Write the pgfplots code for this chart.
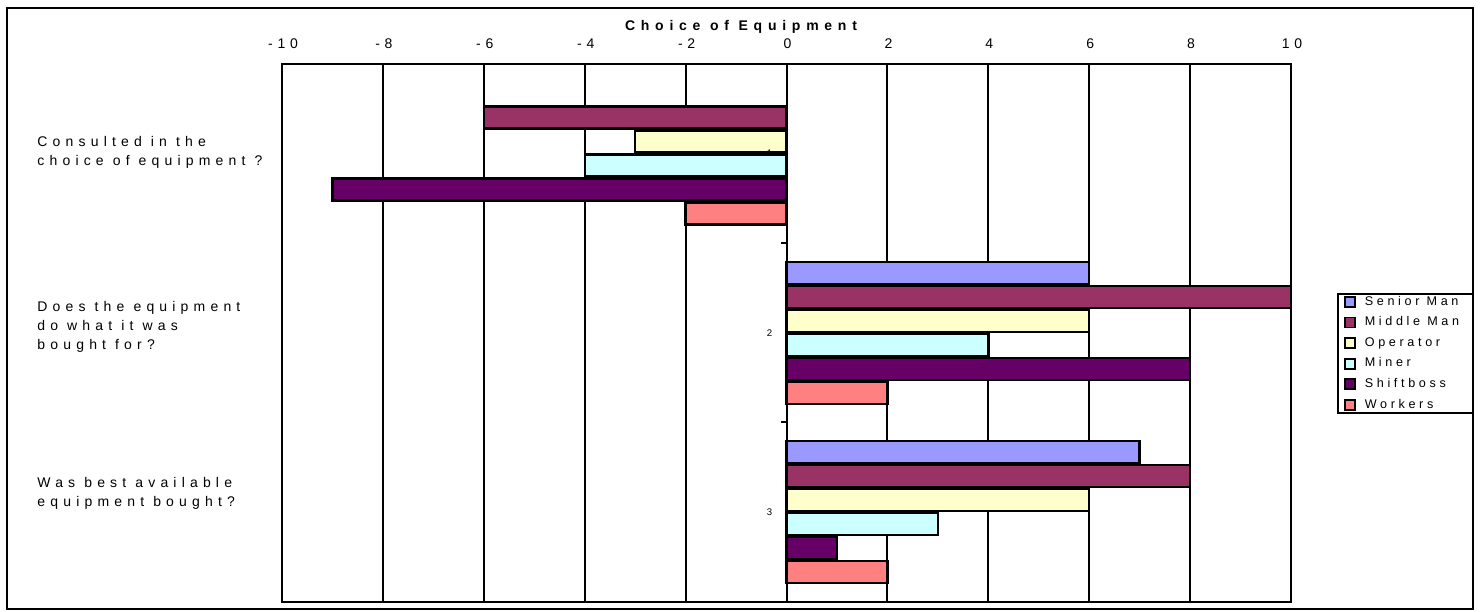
\documentclass[border=0pt]{standalone}
\usepackage{fontspec}
\setmainfont{Liberation Sans}
\usepackage{pgfplots}
\pgfplotsset{compat=1.18}

% widely tracked Arial-like faces
\newfontfamily\lblfont{Liberation Sans}[LetterSpace=37]
\newfontfamily\tickfont{Liberation Sans}[LetterSpace=34]
\newfontfamily\ttlfont{Liberation Sans}[LetterSpace=41]
\newfontfamily\legfont{Liberation Sans}[LetterSpace=29]

\definecolor{seniorman}{HTML}{9999FF}
\definecolor{middleman}{HTML}{993366}
\definecolor{operator}{HTML}{FFFFCC}
\definecolor{miner}{HTML}{CCFFFF}
\definecolor{shiftboss}{HTML}{660066}
\definecolor{workers}{HTML}{FF8080}

\pgfplotsset{
  sqlegend/.style={legend image code/.code={%
    \draw[##1, draw=black, line width=0.9pt] (0pt,-2.5pt) rectangle (5pt,2.5pt);}},
  barstyle/.style={draw=black, line width=1.2pt, fill=#1, sqlegend},
}

\begin{document}
\begin{tikzpicture}
\useasboundingbox (0,0) rectangle (742pt,305.5pt);
\draw[line width=1pt] (3.5pt,1pt) rectangle (736.5pt,301.5pt);

\begin{axis}[
  at={(141pt,4.75pt)}, anchor=south west,
  scale only axis, width=504.5pt, height=268.75pt,
  xbar, bar width=0.1228,
  xmin=-10, xmax=10, ymin=0.5, ymax=3.5, y dir=reverse,
  xtick={-10,-8,...,10},
  xticklabels={-10,-8,-6,-4,-2,0,2,4,6,8,10},
  xtick pos=upper, xticklabel pos=upper,
  xticklabel style={font=\fontsize{7}{8}\tickfont, yshift=4pt, xshift=0.5pt},
  ytick=\empty,
  xmajorgrids, grid style={black, line width=1pt},
  axis line style={black, line width=1pt},
  major tick length=2pt, tick style={black, line width=0.8pt},
  clip=false,
  legend cell align=left,
  legend style={at={(1.04559,0.5740)}, anchor=north west,
    draw=black, line width=1pt, fill=white,
    inner xsep=3pt, inner ysep=1pt,
    font=\fontsize{6.3}{7}\legfont, row sep=4.4pt,
    nodes={inner sep=0pt, text height=4.6pt, text depth=1.3pt},
    /tikz/every odd column/.append style={column sep=4.5pt}},
]
\addplot[barstyle=seniorman, bar shift=-0.335] coordinates {(6,2) (7,3)};
\addlegendentry{Senior Man}
\addplot[barstyle=middleman, bar shift=-0.201] coordinates {(-6,1) (10,2) (8,3)};
\addlegendentry{Middle Man\hspace*{4pt}}
\addplot[barstyle=operator, bar shift=-0.067] coordinates {(-3,1) (6,2) (6,3)};
\addlegendentry{Operator}
\addplot[barstyle=miner, bar shift=0.067] coordinates {(-4,1) (4,2) (3,3)};
\addlegendentry{Miner}
\addplot[barstyle=shiftboss, bar shift=0.201] coordinates {(-9,1) (8,2) (1,3)};
\addlegendentry{Shiftboss}
\addplot[barstyle=workers, bar shift=0.335] coordinates {(-2,1) (2,2) (2,3)};
\addlegendentry{Workers}

% category axis along zero: boundary ticks and small index labels
\pgfplotsinvokeforeach{0.5,1.5,2.5,3.5}{
  \draw[black, line width=1pt] (axis cs:0,#1) -- ++(-3pt,0pt);
}
\pgfplotsinvokeforeach{1,2,3}{
  \node[anchor=east, font=\fontsize{4.8}{5}\selectfont, inner sep=0pt]
    at ([xshift=-7pt]axis cs:0,#1) {#1};
}
\end{axis}

\node[font=\fontsize{7}{8.4}\ttlfont\bfseries] at (370.5pt,292pt) {Choice of Equipment};

\begin{scope}[every node/.style={anchor=west, align=left, inner sep=0pt,
    font=\fontsize{7}{9.5}\lblfont}]
  \node at (18.5pt,229.25pt) {Consulted in the\\choice of equipment ?};
  \node at (18.5pt,142pt) {Does the equipment\\do what it was\\bought for?};
  \node at (18.5pt,58.75pt) {Was best available\\equipment bought?};
\end{scope}
\end{tikzpicture}
\end{document}
